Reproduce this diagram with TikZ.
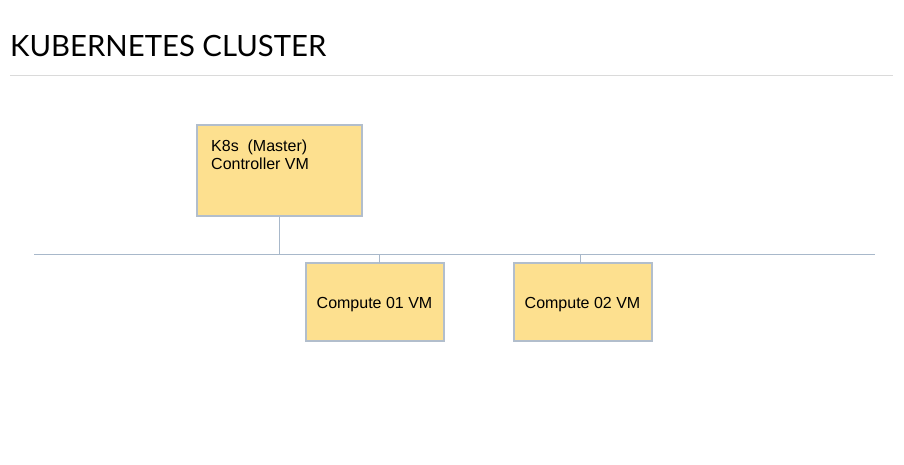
\documentclass[tikz,border=0pt]{standalone}
\usepackage{fontspec}
\setmainfont{Liberation Sans}
\newfontfamily\titlefont{Lato}
\definecolor{boxfill}{RGB}{253,224,143}
\definecolor{boxline}{RGB}{178,190,204}
\definecolor{wire}{RGB}{168,184,202}
\definecolor{rulegray}{RGB}{218,218,218}
\begin{document}
\begin{tikzpicture}[x=1pt,y=-1pt,
  vmbox/.style={draw=boxline,fill=boxfill,line width=1.2pt,inner sep=0pt},
  wireline/.style={draw=wire,line width=1pt},
  boxtext/.style={font=\fontsize{16}{17.6}\selectfont,inner sep=0pt}]
\useasboundingbox (0,0) rectangle (904,465);
\node[anchor=base west,inner sep=0pt,font=\titlefont\fontsize{29.3}{32}\selectfont] (title) at (10,57) {KUBERNETES CLUSTER};
\coordinate (rl) at (10,75.5);
\coordinate (rr) at (893,75.5);
\draw[rulegray,line width=1.3pt] (rl) -- (rr);
\node[vmbox,minimum width=165pt,minimum height=91pt] (master) at (279.5,170.5) {};
\node[boxtext,anchor=base west,align=left] (mtxt) at (211,169.5) {K8s~~(Master)\\Controller VM};
\node[vmbox,minimum width=138pt,minimum height=78pt] (c1) at (375,302) {};
\node[vmbox,minimum width=138pt,minimum height=78pt] (c2) at (583,302) {};
\node[boxtext,anchor=base] (c1t) at (374.5,308) {Compute 01 VM};
\node[boxtext,anchor=base] (c2t) at (582.5,308) {Compute 02 VM};
\coordinate (bl) at (34,254.5);
\coordinate (br) at (875,254.5);
\draw[wireline] (bl) -- (br);
\draw[wireline] (master.south) -- (master.south |- bl);
\draw[wireline] (379,254.5) -- (379,263);
\draw[wireline] (580,254.5) -- (580,263);
\end{tikzpicture}
\end{document}
